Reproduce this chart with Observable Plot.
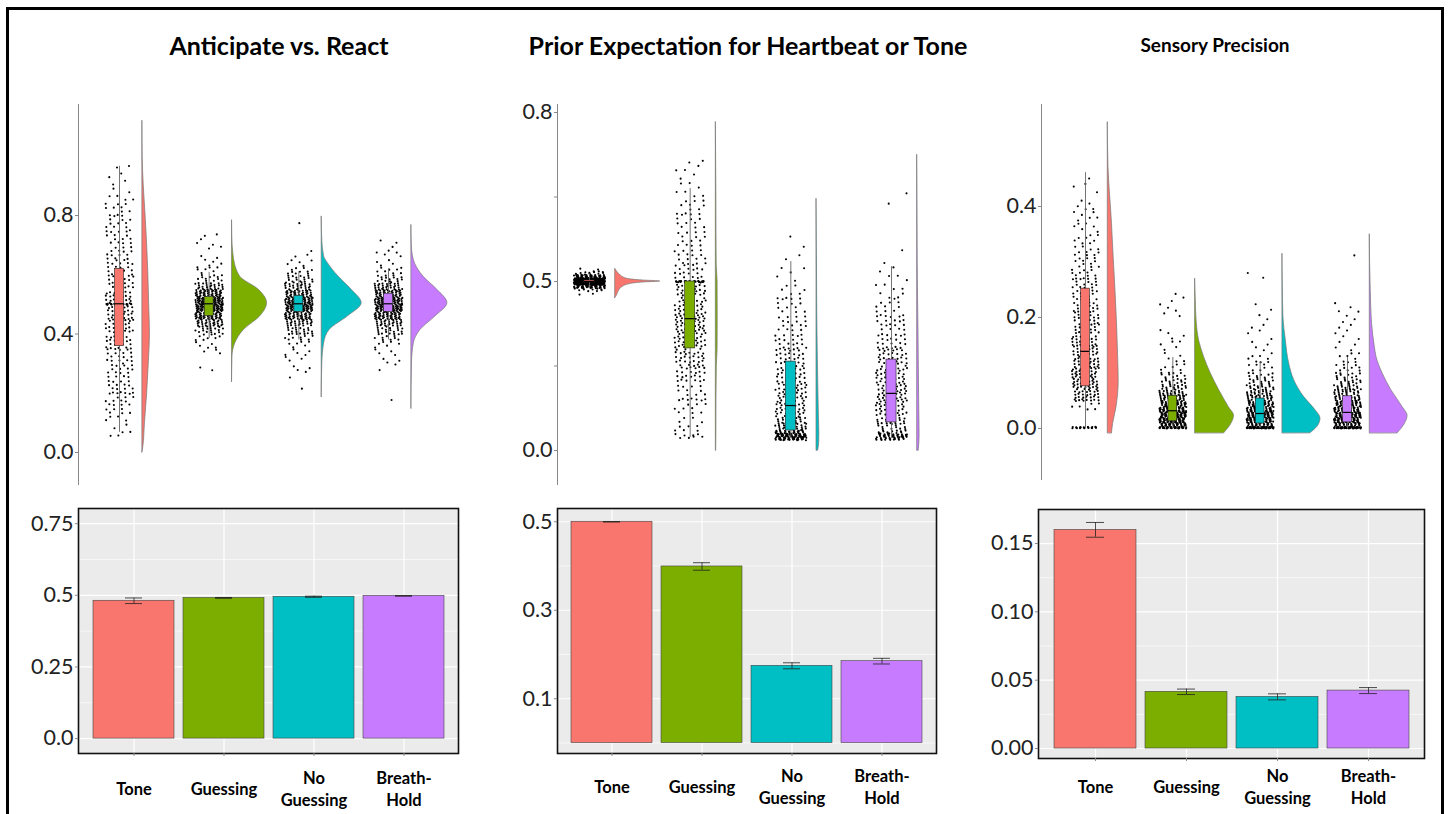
<!DOCTYPE html>
<html><head><meta charset="utf-8">
<script src="https://cdn.jsdelivr.net/npm/d3@7"></script>
<script src="https://cdn.jsdelivr.net/npm/@observablehq/plot@0.6"></script>
<style>
body{margin:0;background:#fff;}
#fig{position:relative;width:1449px;height:814px;overflow:hidden;font-family:Lato,"Open Sans",sans-serif;background:#fff;}
#border{position:absolute;left:6px;top:7px;width:1432px;height:900px;border:3px solid #000;border-bottom:none;box-sizing:content-box;}
.title{position:absolute;top:31px;font-weight:700;line-height:28px;white-space:nowrap;transform:translateX(-50%);color:#000;}
.panel{position:absolute;}
</style></head>
<body><div id="fig"><div id="border"></div></div>
<script>
// ---------------- DATA ----------------
const groups = ["Tone", "Guessing", "No Guessing", "Breath-Hold"];
const axisLabels = ["Tone", "Guessing", "No\nGuessing", "Breath-\nHold"];
const groupColors = ["#F8766D", "#7CAE00", "#00BFC4", "#C77CFF"];
const panelTitles = ["Anticipate vs. React", "Prior Expectation for Heartbeat or Tone", "Sensory Precision"];

// Box plot stats per group: [lower whisker, Q1, median, Q3, upper whisker]
const boxAnticipate = [[0.068, 0.359, 0.502, 0.620, 0.966], [0.385, 0.461, 0.502, 0.525, 0.608], [0.38, 0.475, 0.502, 0.529, 0.61], [0.38, 0.475, 0.502, 0.536, 0.62]];
const boxPrior = [[0.478, 0.497, 0.500, 0.503, 0.522], [0.038, 0.302, 0.39, 0.50, 0.775], [0.035, 0.059, 0.133, 0.263, 0.559], [0.035, 0.083, 0.169, 0.269, 0.544]];
const boxPrecision = [[0.0, 0.076, 0.139, 0.252, 0.461], [0.0, 0.013, 0.032, 0.059, 0.128], [0.0, 0.009, 0.027, 0.054, 0.12], [0.0, 0.011, 0.029, 0.058, 0.128]];

// Half-violin density profiles per group: [value, density]
const violinAnticipate = [
  [[0.0, 0], [0.02, 0.25], [0.1, 0.65], [0.2, 1.2], [0.3, 1.6], [0.4, 1.9], [0.5, 1.7], [0.6, 1.5], [0.7, 1.2], [0.8, 0.8], [0.9, 0.35], [1.0, 0.06], [1.12, 0]],
  [[0.238, 0], [0.323, 0.1], [0.368, 0.8], [0.414, 3], [0.459, 7], [0.504, 8.75], [0.549, 6.7], [0.594, 2], [0.662, 0.4], [0.73, 0.05], [0.784, 0]],
  [[0.187, 0], [0.3, 0.15], [0.368, 0.6], [0.414, 2], [0.459, 6.5], [0.504, 10], [0.549, 7.5], [0.594, 4.2], [0.64, 1.5], [0.662, 0.6], [0.73, 0.1], [0.797, 0]],
  [[0.148, 0], [0.3, 0.15], [0.368, 0.6], [0.414, 2.3], [0.459, 6], [0.504, 9], [0.549, 6.5], [0.594, 3], [0.65, 0.6], [0.7, 0.1], [0.768, 0]]
];
const violinPrior = [
  [[0.4507, 0], [0.458, 1.5], [0.473, 3.6], [0.483, 6.4], [0.493, 14.5], [0.497, 25], [0.5, 41], [0.503, 25], [0.508, 11], [0.518, 5], [0.528, 2], [0.5375, 0]],
  [[0.0, 0.3], [0.05, 0.5], [0.15, 0.6], [0.25, 0.9], [0.3, 1.6], [0.4, 1.7], [0.5, 1.6], [0.55, 0.8], [0.65, 0.6], [0.75, 0.5], [0.85, 0.3], [0.972, 0]],
  [[0.0, 1.5], [0.02, 2.4], [0.05, 2.6], [0.1, 2.2], [0.2, 1.6], [0.3, 1.1], [0.4, 0.7], [0.5, 0.5], [0.6, 0.3], [0.745, 0]],
  [[0.0, 1.4], [0.04, 2.2], [0.08, 2.1], [0.15, 1.8], [0.25, 1.5], [0.35, 1.2], [0.45, 0.8], [0.55, 0.5], [0.7, 0.3], [0.875, 0]]
];
const violinPrecision = [
  [[-0.0084, 1.5], [0.008, 1.9], [0.038, 3.1], [0.086, 3.9], [0.129, 3.7], [0.189, 3.3], [0.249, 2.75], [0.309, 2.1], [0.369, 1.5], [0.471, 0.25], [0.519, 0.05], [0.552, 0]],
  [[-0.0084, 10.4], [0.008, 12.9], [0.023, 13.9], [0.038, 12.1], [0.069, 8.6], [0.099, 5.6], [0.129, 3.2], [0.159, 1.4], [0.189, 0.6], [0.237, 0.2], [0.27, 0]],
  [[-0.0084, 10], [0.003, 12.5], [0.018, 13.6], [0.033, 11.8], [0.057, 7.7], [0.087, 4.2], [0.117, 2.4], [0.159, 1.2], [0.201, 0.35], [0.261, 0.1], [0.315, 0]],
  [[-0.0084, 10], [0.008, 12.5], [0.023, 13.5], [0.038, 11.8], [0.069, 7.7], [0.099, 4.6], [0.129, 2.4], [0.147, 1.8], [0.189, 0.8], [0.249, 0.35], [0.3, 0.1], [0.35, 0]]
];

// Raw participant values, read as histogram bins per group: [low, high, count]
const cloudAnticipate = [
  [[0.05, 0.1, 6], [0.1, 0.15, 10], [0.15, 0.2, 14], [0.2, 0.25, 16], [0.25, 0.3, 16], [0.3, 0.35, 18], [0.35, 0.4, 22], [0.4, 0.45, 26], [0.45, 0.5, 28], [0.498, 0.502, 20], [0.5, 0.55, 30], [0.55, 0.6, 20], [0.6, 0.65, 18], [0.65, 0.7, 14], [0.7, 0.75, 14], [0.75, 0.8, 12], [0.8, 0.85, 10], [0.85, 0.9, 6], [0.9, 0.95, 4], [0.95, 0.97, 2]],
  [[0.27, 0.29, 1], [0.285, 0.3, 1], [0.325, 0.35, 3], [0.35, 0.375, 5], [0.375, 0.4, 8], [0.4, 0.425, 18], [0.425, 0.45, 30], [0.45, 0.475, 50], [0.475, 0.5, 65], [0.5, 0.525, 65], [0.525, 0.55, 45], [0.55, 0.575, 25], [0.575, 0.6, 12], [0.6, 0.625, 6], [0.625, 0.65, 4], [0.65, 0.675, 3], [0.675, 0.7, 2], [0.7, 0.725, 3], [0.725, 0.745, 2]],
  [[0.21, 0.225, 1], [0.25, 0.275, 2], [0.275, 0.3, 3], [0.3, 0.325, 3], [0.325, 0.35, 5], [0.35, 0.375, 6], [0.375, 0.4, 10], [0.4, 0.425, 18], [0.425, 0.45, 26], [0.45, 0.475, 42], [0.475, 0.5, 60], [0.5, 0.525, 55], [0.525, 0.55, 38], [0.55, 0.575, 25], [0.575, 0.6, 16], [0.6, 0.625, 10], [0.625, 0.65, 5], [0.65, 0.675, 2], [0.675, 0.7, 1], [0.75, 0.775, 1]],
  [[0.17, 0.19, 1], [0.275, 0.3, 2], [0.3, 0.325, 3], [0.325, 0.35, 4], [0.35, 0.375, 6], [0.375, 0.4, 10], [0.4, 0.425, 18], [0.425, 0.45, 28], [0.45, 0.475, 45], [0.475, 0.5, 60], [0.5, 0.525, 58], [0.525, 0.55, 42], [0.55, 0.575, 28], [0.575, 0.6, 15], [0.6, 0.625, 8], [0.625, 0.65, 4], [0.65, 0.675, 3], [0.675, 0.7, 3], [0.7, 0.73, 2]]
];
const cloudPrior = [
  [[0.46, 0.47, 2], [0.47, 0.48, 10], [0.48, 0.49, 40], [0.49, 0.5, 120], [0.5, 0.51, 120], [0.51, 0.52, 40], [0.52, 0.53, 12], [0.53, 0.54, 3]],
  [[0.035, 0.05, 8], [0.05, 0.1, 10], [0.1, 0.15, 12], [0.15, 0.2, 14], [0.2, 0.25, 24], [0.25, 0.3, 30], [0.3, 0.35, 38], [0.35, 0.4, 44], [0.4, 0.45, 34], [0.45, 0.5, 32], [0.498, 0.502, 25], [0.5, 0.55, 20], [0.55, 0.6, 16], [0.6, 0.65, 14], [0.65, 0.7, 12], [0.7, 0.75, 10], [0.75, 0.8, 7], [0.8, 0.85, 5], [0.85, 0.87, 2]],
  [[0.03, 0.04, 40], [0.04, 0.05, 45], [0.05, 0.06, 25], [0.06, 0.08, 25], [0.08, 0.1, 20], [0.1, 0.15, 40], [0.15, 0.2, 35], [0.2, 0.25, 30], [0.25, 0.3, 25], [0.3, 0.35, 20], [0.35, 0.4, 16], [0.4, 0.45, 12], [0.45, 0.5, 8], [0.5, 0.55, 5], [0.55, 0.6, 2], [0.6, 0.64, 2]],
  [[0.03, 0.04, 22], [0.04, 0.05, 28], [0.05, 0.06, 12], [0.06, 0.08, 14], [0.08, 0.1, 16], [0.1, 0.15, 38], [0.15, 0.2, 40], [0.2, 0.25, 38], [0.25, 0.3, 30], [0.3, 0.35, 22], [0.35, 0.4, 18], [0.4, 0.45, 12], [0.45, 0.5, 8], [0.5, 0.55, 5], [0.55, 0.6, 2], [0.7, 0.75, 1], [0.75, 0.78, 1]]
];
const cloudPrecision = [
  [[0, 0.003, 20], [0.03, 0.05, 8], [0.05, 0.07, 28], [0.07, 0.09, 36], [0.09, 0.11, 32], [0.11, 0.13, 28], [0.13, 0.15, 26], [0.15, 0.17, 22], [0.17, 0.19, 20], [0.19, 0.21, 18], [0.21, 0.23, 16], [0.23, 0.25, 15], [0.25, 0.27, 14], [0.27, 0.29, 12], [0.29, 0.31, 11], [0.31, 0.33, 10], [0.33, 0.35, 8], [0.35, 0.37, 6], [0.37, 0.39, 5], [0.39, 0.41, 5], [0.41, 0.43, 2], [0.43, 0.45, 2], [0.45, 0.46, 1]],
  [[0, 0.003, 40], [0.004, 0.01, 30], [0.01, 0.02, 50], [0.02, 0.03, 50], [0.03, 0.04, 45], [0.04, 0.05, 35], [0.05, 0.06, 28], [0.06, 0.07, 22], [0.07, 0.08, 16], [0.08, 0.09, 12], [0.09, 0.1, 8], [0.1, 0.12, 8], [0.12, 0.14, 5], [0.14, 0.16, 5], [0.16, 0.18, 4], [0.2, 0.22, 4], [0.22, 0.245, 4]],
  [[0, 0.003, 60], [0.004, 0.01, 25], [0.01, 0.02, 45], [0.02, 0.03, 45], [0.03, 0.04, 40], [0.04, 0.05, 32], [0.05, 0.06, 25], [0.06, 0.07, 20], [0.07, 0.08, 15], [0.08, 0.09, 12], [0.09, 0.1, 9], [0.1, 0.12, 10], [0.12, 0.14, 6], [0.14, 0.16, 4], [0.16, 0.18, 3], [0.18, 0.2, 3], [0.2, 0.24, 3], [0.25, 0.285, 2]],
  [[0, 0.003, 55], [0.004, 0.01, 25], [0.01, 0.02, 45], [0.02, 0.03, 45], [0.03, 0.04, 38], [0.04, 0.05, 32], [0.05, 0.06, 26], [0.06, 0.07, 20], [0.07, 0.08, 16], [0.08, 0.09, 13], [0.09, 0.1, 10], [0.1, 0.12, 12], [0.12, 0.14, 6], [0.14, 0.16, 4], [0.16, 0.18, 4], [0.18, 0.2, 4], [0.2, 0.23, 5], [0.31, 0.325, 1]]
];

// Bar charts: group means and standard errors
const meanAnticipate = [0.481, 0.491, 0.495, 0.498];
const seAnticipate = [0.0098, 0.0015, 0.002, 0.0012];
const meanPrior = [0.500, 0.399, 0.1745, 0.185];
const sePrior = [0.0005, 0.0085, 0.0068, 0.0064];
const meanPrecision = [0.1600, 0.0415, 0.0378, 0.0424];
const sePrecision = [0.0054, 0.002, 0.0022, 0.0022];

// Tick values and labels
const topTicksAnticipate = [0, 0.4, 0.8];
const topTickLabelsAnticipate = ["0.0", "0.4", "0.8"];
const topTicksPrior = [0, 0.25, 0.5, 0.75, 1.0];
const topTickLabelsPrior = ["0.0", "", "0.5", "", "0.8"];
const topTicksPrecision = [0, 0.2, 0.4];
const topTickLabelsPrecision = ["0.0", "0.2", "0.4"];
const barTicksAnticipate = [0, 0.25, 0.5, 0.75];
const barTickLabelsAnticipate = ["0.0", "0.25", "0.5", "0.75"];
const barMinorAnticipate = [0.125, 0.375, 0.625];
const barTicksPrior = [0.1, 0.3, 0.5];
const barTickLabelsPrior = ["0.1", "0.3", "0.5"];
const barMinorPrior = [0, 0.2, 0.4];
const barTicksPrecision = [0, 0.05, 0.1, 0.15];
const barTickLabelsPrecision = ["0.00", "0.05", "0.10", "0.15"];
const barMinorPrecision = [0.025, 0.075, 0.125];

// ---------------- LAYOUT ----------------
const fig = document.getElementById("fig");
const FONT = "Lato, 'Open Sans', sans-serif";
const violinOffset = 0.255, jitterHalf = 0.155, boxHalf = 0.05;
const TICK_FONT = 21.5;

const titleX = [279, 748, 1215];
const titleSize = [25, 25, 19];
panelTitles.forEach((t, i) => {
  const d = document.createElement("div");
  d.className = "title"; d.textContent = t; d.style.left = titleX[i] + "px";
  d.style.fontSize = titleSize[i] + "px";
  fig.appendChild(d);
});

function place(svg, left, top) {
  const w = document.createElement("div");
  w.className = "panel"; w.style.left = left + "px"; w.style.top = top + "px";
  w.appendChild(svg); fig.appendChild(w);
}

function cloudPoints(cloud) {
  const pts = [];
  cloud.forEach((bins, i) => {
    let k = 0;
    bins.forEach(([lo, hi, n]) => {
      for (let j = 0; j < n; j++, k++) {
        const u = (0.37 + k * 0.7548776662) % 1;
        const w = (0.61 + k * 0.5698402910) % 1;
        pts.push({i, x: i + (w * 2 - 1) * jitterHalf, y: lo + (hi - lo) * u});
      }
    });
  });
  return pts;
}

function topPanel(box, violin, cloud, ticks, tickLabels, L) {
  const unit = (L.px3 - L.px0) / 3;
  const xDom = [(L.left + L.mLeft - L.px0) / unit, (L.left + L.width - L.mRight - L.px0) / unit];
  const kx = L.kPx / unit;
  const boxes = box.map((b, i) => ({i, lo: b[0], q1: b[1], med: b[2], q3: b[3], hi: b[4], color: groupColors[i]}));
  const violins = violin.flatMap((prof, i) => prof.map(([v, d]) => ({i, v, b: i + violinOffset, e: i + violinOffset + d * kx, color: groupColors[i]})));
  const pts = cloudPoints(cloud);
  const svg = Plot.plot({
    width: L.width, height: 410,
    marginLeft: L.mLeft, marginRight: L.mRight, marginTop: L.mTop, marginBottom: L.mBottom,
    style: {fontFamily: FONT, background: "transparent", color: "#222", overflow: "visible"},
    x: {domain: xDom, axis: null, label: null},
    y: {domain: L.yDomain, label: null},
    color: {type: "identity"},
    marks: [
      Plot.areaX(violins, {y: "v", x1: "b", x2: "e", z: "i", fill: "color", stroke: "#777", strokeWidth: 0.7, curve: "monotone-y"}),
      Plot.dot(pts, {x: "x", y: "y", r: 1.05, fill: "#000", stroke: null}),
      Plot.ruleX(boxes, {x: "i", y1: "lo", y2: "hi", stroke: "#666", strokeWidth: 0.9}),
      Plot.rect(boxes, {x1: d => d.i - boxHalf, x2: d => d.i + boxHalf, y1: "q1", y2: "q3", fill: "color", stroke: "#222", strokeWidth: 0.6}),
      Plot.ruleY(boxes, {y: "med", x1: d => d.i - boxHalf, x2: d => d.i + boxHalf, stroke: "#000", strokeWidth: 1.2}),
      Plot.ruleX([xDom[0]], {stroke: "#888", strokeWidth: 1}),
      Plot.axisY(ticks, {tickFormat: d => tickLabels[ticks.indexOf(d)], tickSize: 3, tickPadding: 2, fontSize: TICK_FONT, stroke: "#888", label: null})
    ]
  });
  place(svg, L.left, 90);
}

function barPanel(means, ses, ticks, tickLabels, minor, L) {
  const bars = means.map((m, i) => ({g: groups[i], mean: m, lo: m - ses[i], hi: m + ses[i], color: groupColors[i]}));
  const labelLines = axisLabels.flatMap((s, i) => {
    const parts = s.split("\n");
    return parts.map((t, j) => ({g: groups[i], t, pos: parts.length === 1 ? 0 : (j === 0 ? -1 : 1)}));
  });
  const lineGap = 11;
  const textOpts = {x: "g", text: "t", frameAnchor: "bottom", fontSize: 16.5, fontWeight: "bold", fill: "#000", lineAnchor: "middle"};
  const svg = Plot.plot({
    width: L.width, height: 324,
    marginLeft: L.mLeft, marginRight: L.mRight, marginTop: L.mTop, marginBottom: L.mBottom,
    style: {fontFamily: FONT, background: "transparent", color: "#222", overflow: "visible"},
    x: {domain: groups, paddingInner: 0.1, paddingOuter: 0.15, label: null},
    y: {domain: L.yDomain, label: null},
    color: {type: "identity"},
    marks: [
      Plot.frame({fill: "#EBEBEB", stroke: null}),
      Plot.gridY(minor, {stroke: "#fff", strokeOpacity: 1, strokeWidth: 0.6}),
      Plot.gridY(ticks, {stroke: "#fff", strokeOpacity: 1, strokeWidth: 1.2}),
      Plot.gridX(groups, {stroke: "#fff", strokeOpacity: 1, strokeWidth: 1.2}),
      Plot.barY(bars, {x: "g", y: "mean", fill: "color", stroke: "#444", strokeWidth: 0.6}),
      Plot.ruleX(bars, {x: "g", y1: "lo", y2: "hi", stroke: "#222", strokeWidth: 0.8}),
      Plot.tickY(bars, {x: "g", y: "lo", stroke: "#222", strokeWidth: 0.8, insetLeft: 32, insetRight: 32}),
      Plot.tickY(bars, {x: "g", y: "hi", stroke: "#222", strokeWidth: 0.8, insetLeft: 32, insetRight: 32}),
      Plot.frame({stroke: "#111", strokeWidth: 1.6}),
      Plot.axisY(ticks, {tickFormat: d => tickLabels[ticks.indexOf(d)], tickSize: 3, tickPadding: 2, fontSize: TICK_FONT, stroke: "#888", label: null}),
      Plot.axisX({tickFormat: () => "", tickSize: 3, stroke: "#888", label: null}),
      Plot.text(labelLines.filter(d => d.pos === 0), {...textOpts, dy: L.labelOffset}),
      Plot.text(labelLines.filter(d => d.pos === -1), {...textOpts, dy: L.labelOffset - lineGap}),
      Plot.text(labelLines.filter(d => d.pos === 1), {...textOpts, dy: L.labelOffset + lineGap})
    ]
  });
  place(svg, L.left, 490);
}

topPanel(boxAnticipate, violinAnticipate, cloudAnticipate, topTicksAnticipate, topTickLabelsAnticipate,
  {left: 0, width: 480, mLeft: 78, mRight: 10, mTop: 14, mBottom: 15, px0: 119, px3: 388, yDomain: [-0.1114, 1.1747], kPx: 4});
topPanel(boxPrior, violinPrior, cloudPrior, topTicksPrior, topTickLabelsPrior,
  {left: 480, width: 470, mLeft: 77, mRight: 10, mTop: 14, mBottom: 15, px0: 589, px3: 891, yDomain: [-0.1036, 1.0237], kPx: 1.1});
topPanel(boxPrecision, violinPrecision, cloudPrecision, topTicksPrecision, topTickLabelsPrecision,
  {left: 960, width: 480, mLeft: 81, mRight: 10, mTop: 14, mBottom: 20, px0: 1085, px3: 1347, yDomain: [-0.0937, 0.5838], kPx: 2.8});

barPanel(meanAnticipate, seAnticipate, barTicksAnticipate, barTickLabelsAnticipate, barMinorAnticipate,
  {left: 0, width: 470, mLeft: 78, mRight: 12, mTop: 18, mBottom: 61, yDomain: [-0.052, 0.803], labelOffset: 36});
barPanel(meanPrior, sePrior, barTicksPrior, barTickLabelsPrior, barMinorPrior,
  {left: 480, width: 470, mLeft: 77, mRight: 14, mTop: 18, mBottom: 61, yDomain: [-0.0237, 0.530], labelOffset: 34});
barPanel(meanPrecision, sePrecision, barTicksPrecision, barTickLabelsPrecision, barMinorPrecision,
  {left: 960, width: 480, mLeft: 78, mRight: 16, mTop: 19, mBottom: 56, yDomain: [-0.0073, 0.1749], labelOffset: 29});
</script>
</body></html>
